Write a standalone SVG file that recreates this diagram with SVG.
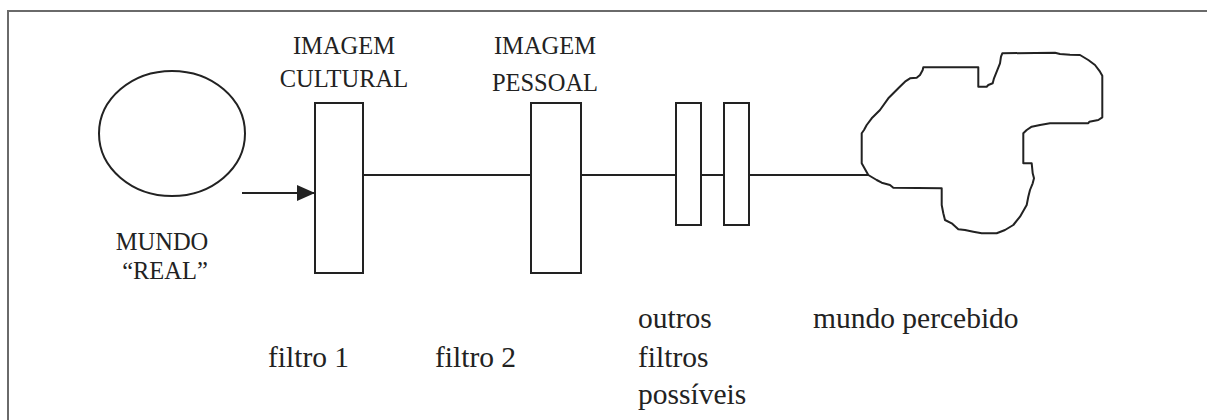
<svg xmlns="http://www.w3.org/2000/svg" width="1207" height="420" viewBox="0 0 1207 420">
  <style>
    .frame { stroke: #6a6a6a; stroke-width: 2; fill: none; }
    .shape { stroke: #222; stroke-width: 2; fill: #fff; }
    .wire { stroke: #222; stroke-width: 2; fill: none; }
    .cap { font-family: 'Liberation Serif', 'DejaVu Serif', serif; font-size: 24.5px; fill: #222; text-anchor: middle; }
    .lbl { font-family: 'Liberation Serif', 'DejaVu Serif', serif; font-size: 29.5px; fill: #222; }
  </style>
  <defs>
    <marker id="arrowhead" markerUnits="userSpaceOnUse" markerWidth="19" markerHeight="16" refX="18" refY="8" orient="auto">
      <path d="M0,0 L18,8 L0,16 Z" fill="#222"/>
    </marker>
  </defs>

  <rect width="1207" height="420" fill="#fff"/>

  <!-- open frame: top and left edges only -->
  <path class="frame" d="M8,420 V11 H1207"/>

  <!-- connectors -->
  <g id="connectors">
    <line class="wire" x1="242" y1="193" x2="315" y2="193" marker-end="url(#arrowhead)"/>
    <line class="wire" x1="363" y1="175" x2="531" y2="175"/>
    <line class="wire" x1="581" y1="175" x2="676" y2="175"/>
    <line class="wire" x1="701" y1="175" x2="724" y2="175"/>
    <line class="wire" x1="749" y1="175" x2="868" y2="175"/>
  </g>

  <!-- real world -->
  <g id="mundo-real">
    <ellipse class="shape" cx="172" cy="133.5" rx="73" ry="62.5"/>
    <text class="cap" x="162" y="250">MUNDO</text>
    <text class="cap" x="165" y="279">“REAL”</text>
  </g>

  <!-- filter 1 -->
  <g id="filtro-1">
    <rect class="shape" x="315" y="103" width="48" height="170"/>
    <text class="cap" x="344" y="54">IMAGEM</text>
    <text class="cap" x="344" y="87">CULTURAL</text>
    <text class="lbl" x="268" y="367">filtro 1</text>
  </g>

  <!-- filter 2 -->
  <g id="filtro-2">
    <rect class="shape" x="531" y="103" width="50" height="170"/>
    <text class="cap" x="545" y="54">IMAGEM</text>
    <text class="cap" x="545" y="91">PESSOAL</text>
    <text class="lbl" x="435" y="367">filtro 2</text>
  </g>

  <!-- other filters -->
  <g id="outros-filtros">
    <rect class="shape" x="676" y="103" width="25" height="122"/>
    <rect class="shape" x="724" y="103" width="25" height="122"/>
    <text class="lbl" x="638" y="328">outros</text>
    <text class="lbl" x="638" y="367">filtros</text>
    <text class="lbl" x="638" y="404">possíveis</text>
  </g>

  <!-- perceived world -->
  <g id="mundo-percebido">
    <path class="shape" stroke-linejoin="round" d="M861.7,133.3 L864,130 L866.7,125 L871.7,118.3 L880,110 L888.3,98.3 L893.3,93.3 L898.3,88.3 L905,81.7 L910,78.3 L916.7,77.7 L920,75 L922.7,70 L923.3,67.3 L978.3,67.3 L978.3,86.7 L986.7,86.7 L988.3,85 L992.7,83.3 L994,78.3 L996.7,71.7 L1000,63.3 L1001,56.7 L1002.3,53.3 L1055,52.7 L1060,54 L1070,54.7 L1080,55 L1088.3,60 L1095,65 L1100,71.7 L1102.3,75.7 L1102.3,117.3 L1098.3,120 L1089.3,121.7 L1088.3,123.3 L1050,123.3 L1040,125 L1031.7,126.7 L1026.7,130 L1023.3,133.3 L1023.3,163.3 L1031.7,163.3 L1032.7,173.3 L1034,178.3 L1032.7,183.3 L1030,190 L1028.3,196.7 L1026.7,205 L1020,216.7 L1013.3,225 L1005,230 L996.7,233.3 L981.7,233.3 L973.3,231.7 L965,230 L958.3,229.3 L951.7,223.3 L945,220 L943.3,213.3 L941.7,205 L941.7,188.3 L893.3,187.7 L890,185 L881.7,182.7 L876.7,180 L868.3,175 L861.7,163.3 Z"/>
    <text class="lbl" x="813" y="328">mundo percebido</text>
  </g>
</svg>
